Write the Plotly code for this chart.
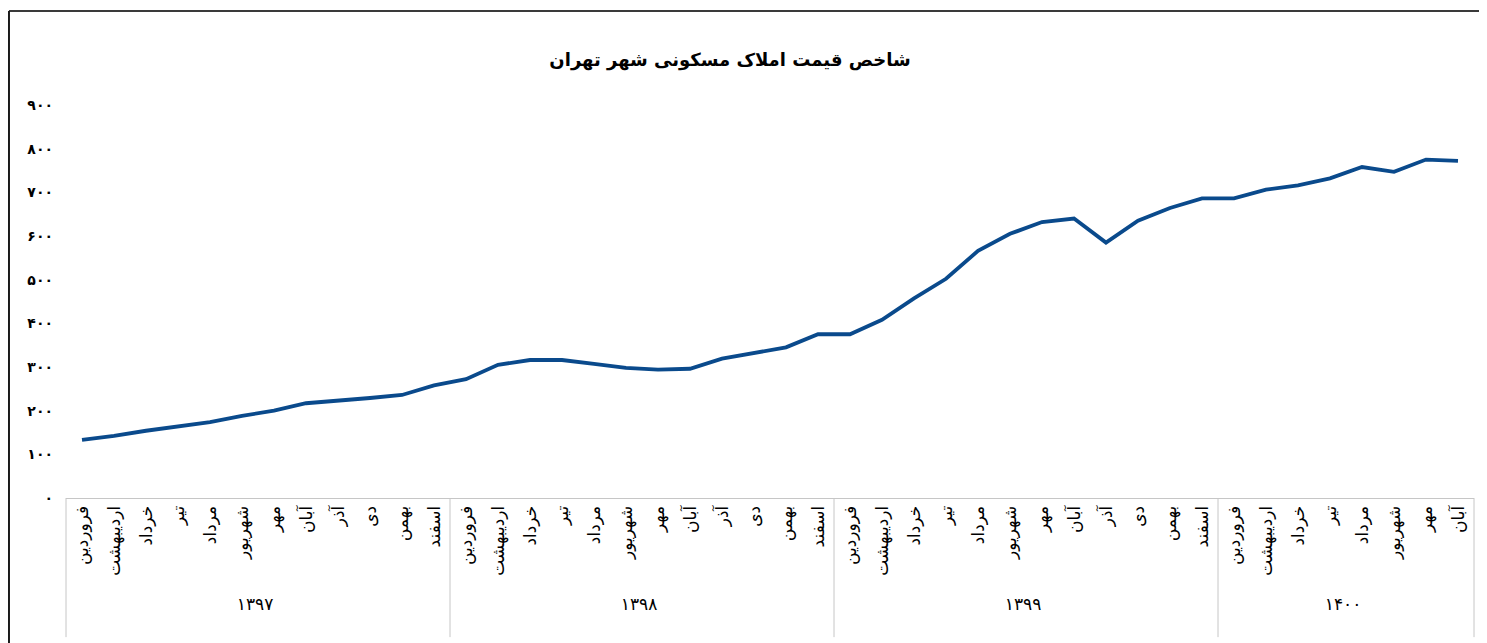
import plotly.graph_objects as go

years = ["۱۳۹۷", "۱۳۹۸", "۱۳۹۹", "۱۴۰۰"]
months = ["فروردین", "اردیبهشت", "خرداد", "تیر", "مرداد", "شهریور",
          "مهر", "آبان", "آذر", "دی", "بهمن", "اسفند"]
months_per_year = [12, 12, 12, 8]

values = [133, 142, 154, 165, 174, 188, 200, 217, 222, 229, 236, 258,
          272, 305, 316, 316, 307, 298, 294, 296, 319, 333, 345, 375,
          375, 408, 457, 502, 566, 605, 632, 640, 585, 635, 664, 686,
          686, 706, 716, 732, 758, 747, 775, 772]

y_ticks = [0, 100, 200, 300, 400, 500, 600, 700, 800, 900]
y_ticktext = ["۰", "۱۰۰", "۲۰۰", "۳۰۰", "۴۰۰", "۵۰۰", "۶۰۰", "۷۰۰", "۸۰۰", "۹۰۰"]

title_text = "شاخص قیمت املاک مسکونی شهر تهران"

outer = []
inner = []
for yr, n in zip(years, months_per_year):
    for m in months[:n]:
        outer.append(yr)
        inner.append(m)
n_total = len(values)

fig = go.Figure()
fig.add_trace(go.Scatter(
    x=[outer, inner], y=values, mode="lines",
    line=dict(color="#0a4a8c", width=3.8),
    hoverinfo="y", showlegend=False,
))

fa_font = "DejaVu Sans"
grid_col = "#c6c6c6"

# group boundary lines (left edge, between years, right edge)
shapes = []
acc = 0
bounds = [0]
for n in months_per_year:
    acc += n
    bounds.append(acc)
for b in bounds:
    xp = b / n_total
    shapes.append(dict(type="line", xref="paper", yref="paper", x0=xp, x1=xp,
                       y0=0, y1=-0.354, line=dict(color=grid_col, width=1)))

# outer frame (top and left edges)
shapes.append(dict(type="line", xref="paper", yref="paper", x0=-0.0405, x1=1.0092,
                   y0=1.239, y1=1.239, line=dict(color="#3a3a3a", width=2)))
shapes.append(dict(type="line", xref="paper", yref="paper", x0=-0.0405, x1=-0.0405,
                   y0=1.239, y1=-0.4, line=dict(color="#1a1a1a", width=2)))

fig.update_layout(
    width=1479, height=635,
    margin=dict(l=58, r=13, t=97, b=145),
    paper_bgcolor="white", plot_bgcolor="white",
    title=dict(text="<b>" + title_text + "</b>", x=0.4716, xref="paper",
               y=0.918, yref="container", xanchor="center", yanchor="middle",
               font=dict(family=fa_font, size=18, color="black")),
    xaxis=dict(
        type="multicategory",
        range=[-0.5, n_total - 0.5],
        showgrid=False, zeroline=False,
        showline=True, linecolor=grid_col, linewidth=1,
        showdividers=False,
        tickangle=-90, ticks="",
        tickfont=dict(family=fa_font, size=17, color="black"),
    ),
    yaxis=dict(
        range=[0, 900], tickvals=y_ticks,
        ticktext=["<b>" + t + "</b>" for t in y_ticktext],
        showgrid=False, zeroline=False, showline=False, ticks="",
        tickfont=dict(family=fa_font, size=14, color="black"),
        ticklabelstandoff=12,
    ),
    shapes=shapes,
)

fig.write_html("out.html")
